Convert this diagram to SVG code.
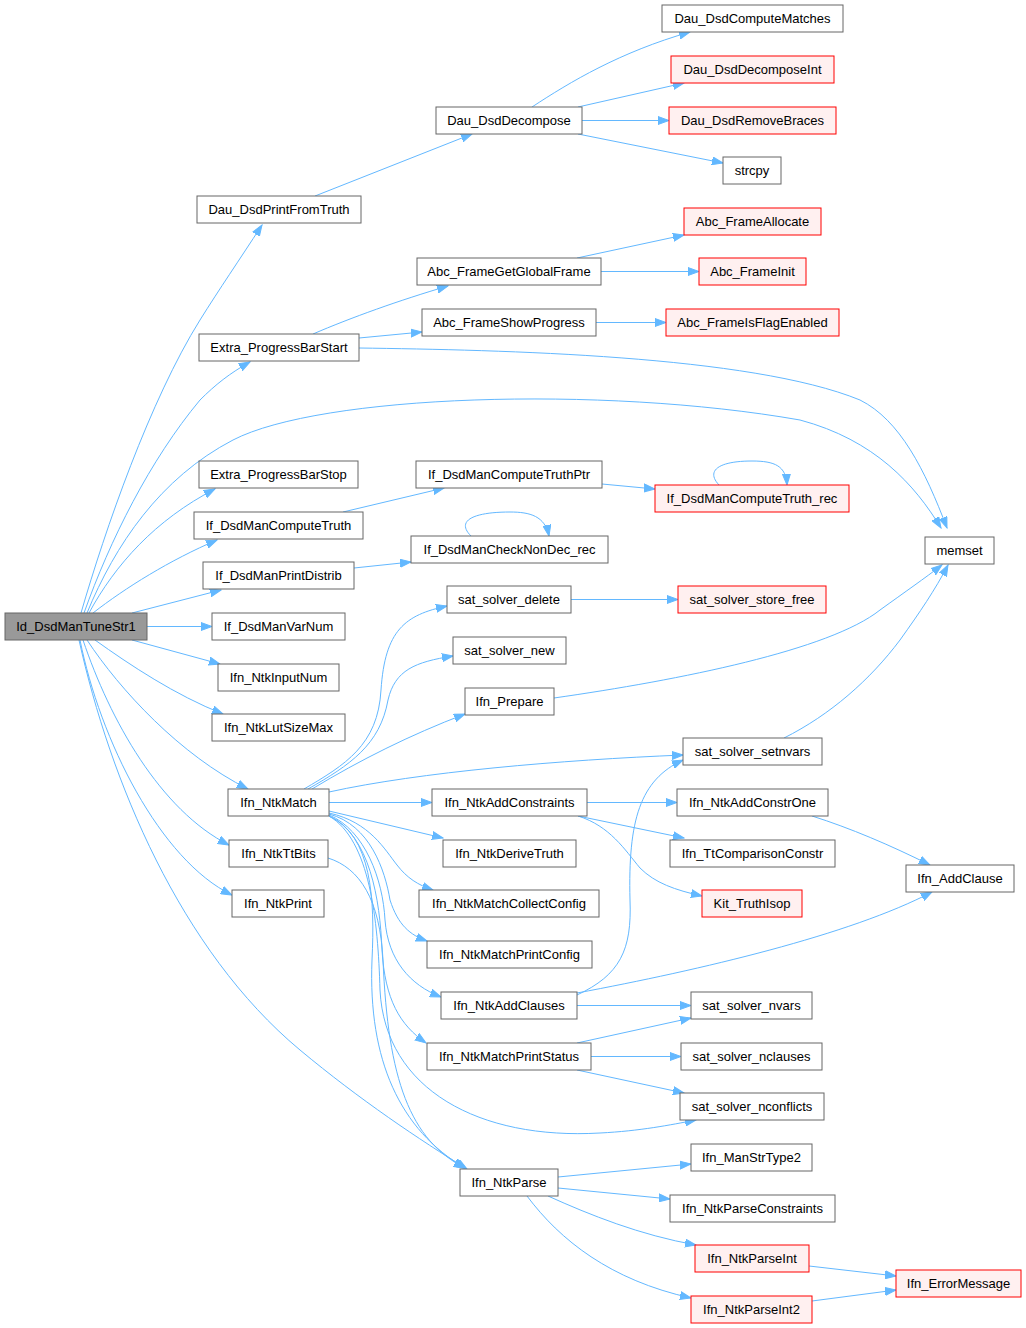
<svg xmlns="http://www.w3.org/2000/svg" width="1026" height="1328" viewBox="0 0 1026 1328">
<style>
.n rect{fill:#ffffff;stroke:#666666;stroke-width:1}
.r rect{fill:#fff0f0;stroke:#ff0000;stroke-width:1}
.root rect{fill:#999999;stroke:#666666;stroke-width:1}
text{font-family:"Liberation Sans",Arial,Helvetica,sans-serif;font-size:13px;text-anchor:middle;fill:#000000}
.e path{fill:none;stroke:#63b8ff;stroke-width:1;marker-end:url(#a)}
</style>
<defs>
<marker id="a" markerWidth="12" markerHeight="9" refX="11" refY="4.5" orient="auto" markerUnits="userSpaceOnUse">
<path d="M0,0.5 L11,4.5 L0,8.5 Z" fill="#63b8ff" stroke="#63b8ff" stroke-width="1"/>
</marker>
</defs>
<rect width="1026" height="1328" fill="#ffffff"/>
<g id="edges" class="e">
<path d="M81,613 C105,530 150,400 200,320 C220,288 238,262 262,225"/>
<path d="M84,613 C110,540 150,460 200,400 C215,385 230,373 250,362"/>
<path d="M87,613 C115,545 160,478 233,440 C320,395 600,385 800,420 C875,440 915,485 941,528"/>
<path d="M359,348 C500,350 750,355 860,400 C900,420 925,470 947,528"/>
<path d="M89,613 C115,565 155,520 215,489"/>
<path d="M93,613 C125,588 170,560 217,540"/>
<path d="M132,613 L221,590"/>
<path d="M147,626.5 L212,626.5"/>
<path d="M132,640 L220,664"/>
<path d="M95,640 C130,665 175,695 223,714"/>
<path d="M87,640 C120,690 180,755 248,789"/>
<path d="M83,640 C110,720 160,810 229,845"/>
<path d="M80,640 C100,740 160,860 232,895"/>
<path d="M79,640 C110,780 180,950 300,1050 C360,1100 420,1140 467,1169"/>
<path d="M315,196 L472,134"/>
<path d="M532,107 C570,82 620,52 690,32"/>
<path d="M578,107 L684,83"/>
<path d="M582,120.5 L669,120.5"/>
<path d="M578,134 L723,163"/>
<path d="M313,334 C350,318 400,300 448,286"/>
<path d="M359,338 L422,332"/>
<path d="M577,258 L684,235"/>
<path d="M601,271.5 L699,271.5"/>
<path d="M596,322.5 L666,322.5"/>
<path d="M343,512 L444,488"/>
<path d="M602,484 L655,489"/>
<path d="M719,485 C705,470 720,461 752,461 C775,461 786,466 787,485"/>
<path d="M354,568 L411,562"/>
<path d="M471,536 C455,520 475,512 510,512 C530,512 545,516 549,536"/>
<path d="M304,789 C345,765 378,745 381,690 C385,630 405,615 447,606"/>
<path d="M308,789 C350,765 380,745 388,700 C395,670 415,662 453,656"/>
<path d="M312,789 C360,760 410,735 465,714"/>
<path d="M329,792 C420,772 560,760 683,755"/>
<path d="M329,802.5 L432,802.5"/>
<path d="M329,811 L443,838"/>
<path d="M329,813 C370,822 385,850 397,865 C407,878 418,885 433,890"/>
<path d="M329,814 C370,825 385,870 390,900 C398,925 410,935 427,941"/>
<path d="M329,815 C365,830 383,880 385,920 C388,960 410,985 441,997"/>
<path d="M329,816 C370,835 380,900 382,950 C385,1000 400,1025 426,1043"/>
<path d="M329,816 C370,840 378,920 380,990 C385,1090 480,1140 600,1133 C640,1131 670,1125 696,1120"/>
<path d="M329,816 C372,835 375,900 372,960 C368,1060 400,1130 465,1168"/>
<path d="M328,858 C360,868 380,900 383,960 C388,1080 410,1140 465,1168"/>
<path d="M571,599.5 L678,599.5"/>
<path d="M587,802.5 L677,802.5"/>
<path d="M578,816 L684,838"/>
<path d="M578,816 C610,826 625,850 640,868 C655,883 675,890 702,896"/>
<path d="M812,816 C850,828 890,845 930,865"/>
<path d="M554,698 C680,680 830,650 880,610 C905,592 925,578 942,565"/>
<path d="M784,738 C830,715 870,680 900,640 C920,612 935,590 948,565"/>
<path d="M577,995 C620,975 632,950 630,900 C628,820 640,780 683,760"/>
<path d="M577,993 C700,970 850,935 932,892"/>
<path d="M577,1005.5 L691,1005.5"/>
<path d="M577,1043 L691,1018"/>
<path d="M591,1056.5 L681,1056.5"/>
<path d="M577,1070 L684,1093"/>
<path d="M558,1177 L691,1164"/>
<path d="M558,1188 L670,1199"/>
<path d="M548,1196 C590,1215 640,1235 696,1245"/>
<path d="M527,1196 C560,1240 610,1280 691,1298"/>
<path d="M809,1266 L896,1276"/>
<path d="M812,1301 L896,1290"/>
</g>
<g id="n1" class="root"><rect x="5" y="613" width="142" height="27"/><text x="76" y="631">Id_DsdManTuneStr1</text></g>
<g id="n2" class="n"><rect x="197" y="196" width="164" height="27"/><text x="279" y="214">Dau_DsdPrintFromTruth</text></g>
<g id="n3" class="n"><rect x="199" y="334" width="160" height="27"/><text x="279" y="352">Extra_ProgressBarStart</text></g>
<g id="n4" class="n"><rect x="199" y="461" width="159" height="27"/><text x="278.5" y="479">Extra_ProgressBarStop</text></g>
<g id="n5" class="n"><rect x="194" y="512" width="169" height="27"/><text x="278.5" y="530">If_DsdManComputeTruth</text></g>
<g id="n6" class="n"><rect x="203" y="562" width="151" height="27"/><text x="278.5" y="580">If_DsdManPrintDistrib</text></g>
<g id="n7" class="n"><rect x="212" y="613" width="133" height="27"/><text x="278.5" y="631">If_DsdManVarNum</text></g>
<g id="n8" class="n"><rect x="218" y="664" width="121" height="27"/><text x="278.5" y="682">Ifn_NtkInputNum</text></g>
<g id="n9" class="n"><rect x="212" y="714" width="133" height="27"/><text x="278.5" y="732">Ifn_NtkLutSizeMax</text></g>
<g id="n10" class="n"><rect x="228" y="789" width="101" height="27"/><text x="278.5" y="807">Ifn_NtkMatch</text></g>
<g id="n11" class="n"><rect x="229" y="840" width="99" height="27"/><text x="278.5" y="858">Ifn_NtkTtBits</text></g>
<g id="n12" class="n"><rect x="232" y="890" width="92" height="27"/><text x="278" y="908">Ifn_NtkPrint</text></g>
<g id="n13" class="n"><rect x="436" y="107" width="146" height="27"/><text x="509" y="125">Dau_DsdDecompose</text></g>
<g id="n14" class="n"><rect x="662" y="5" width="181" height="27"/><text x="752.5" y="23">Dau_DsdComputeMatches</text></g>
<g id="n15" class="r"><rect x="671" y="56" width="163" height="27"/><text x="752.5" y="74">Dau_DsdDecomposeInt</text></g>
<g id="n16" class="r"><rect x="669" y="107" width="167" height="27"/><text x="752.5" y="125">Dau_DsdRemoveBraces</text></g>
<g id="n17" class="n"><rect x="723" y="157" width="58" height="27"/><text x="752" y="175">strcpy</text></g>
<g id="n18" class="r"><rect x="684" y="208" width="137" height="27"/><text x="752.5" y="226">Abc_FrameAllocate</text></g>
<g id="n19" class="n"><rect x="417" y="258" width="184" height="27"/><text x="509" y="276">Abc_FrameGetGlobalFrame</text></g>
<g id="n20" class="r"><rect x="699" y="258" width="107" height="27"/><text x="752.5" y="276">Abc_FrameInit</text></g>
<g id="n21" class="n"><rect x="422" y="309" width="174" height="27"/><text x="509" y="327">Abc_FrameShowProgress</text></g>
<g id="n22" class="r"><rect x="666" y="309" width="173" height="27"/><text x="752.5" y="327">Abc_FrameIsFlagEnabled</text></g>
<g id="n23" class="n"><rect x="416" y="461" width="186" height="27"/><text x="509" y="479">If_DsdManComputeTruthPtr</text></g>
<g id="n24" class="r"><rect x="655" y="485" width="194" height="27"/><text x="752" y="503">If_DsdManComputeTruth_rec</text></g>
<g id="n25" class="n"><rect x="925" y="537" width="69" height="27"/><text x="959.5" y="555">memset</text></g>
<g id="n26" class="n"><rect x="411" y="536" width="197" height="27"/><text x="509.5" y="554">If_DsdManCheckNonDec_rec</text></g>
<g id="n27" class="n"><rect x="447" y="586" width="124" height="27"/><text x="509" y="604">sat_solver_delete</text></g>
<g id="n28" class="r"><rect x="678" y="586" width="148" height="27"/><text x="752" y="604">sat_solver_store_free</text></g>
<g id="n29" class="n"><rect x="453" y="637" width="113" height="27"/><text x="509.5" y="655">sat_solver_new</text></g>
<g id="n30" class="n"><rect x="465" y="688" width="89" height="27"/><text x="509.5" y="706">Ifn_Prepare</text></g>
<g id="n31" class="n"><rect x="683" y="738" width="139" height="27"/><text x="752.5" y="756">sat_solver_setnvars</text></g>
<g id="n32" class="n"><rect x="432" y="789" width="155" height="27"/><text x="509.5" y="807">Ifn_NtkAddConstraints</text></g>
<g id="n33" class="n"><rect x="677" y="789" width="151" height="27"/><text x="752.5" y="807">Ifn_NtkAddConstrOne</text></g>
<g id="n34" class="n"><rect x="443" y="840" width="133" height="27"/><text x="509.5" y="858">Ifn_NtkDeriveTruth</text></g>
<g id="n35" class="n"><rect x="670" y="840" width="165" height="27"/><text x="752.5" y="858">Ifn_TtComparisonConstr</text></g>
<g id="n36" class="n"><rect x="906" y="865" width="108" height="27"/><text x="960" y="883">Ifn_AddClause</text></g>
<g id="n37" class="n"><rect x="419" y="890" width="180" height="27"/><text x="509" y="908">Ifn_NtkMatchCollectConfig</text></g>
<g id="n38" class="r"><rect x="702" y="890" width="100" height="27"/><text x="752" y="908">Kit_TruthIsop</text></g>
<g id="n39" class="n"><rect x="427" y="941" width="165" height="27"/><text x="509.5" y="959">Ifn_NtkMatchPrintConfig</text></g>
<g id="n40" class="n"><rect x="441" y="992" width="136" height="27"/><text x="509" y="1010">Ifn_NtkAddClauses</text></g>
<g id="n41" class="n"><rect x="691" y="992" width="121" height="27"/><text x="751.5" y="1010">sat_solver_nvars</text></g>
<g id="n42" class="n"><rect x="427" y="1043" width="164" height="27"/><text x="509" y="1061">Ifn_NtkMatchPrintStatus</text></g>
<g id="n43" class="n"><rect x="681" y="1043" width="141" height="27"/><text x="751.5" y="1061">sat_solver_nclauses</text></g>
<g id="n44" class="n"><rect x="680" y="1093" width="144" height="27"/><text x="752" y="1111">sat_solver_nconflicts</text></g>
<g id="n45" class="n"><rect x="691" y="1144" width="121" height="27"/><text x="751.5" y="1162">Ifn_ManStrType2</text></g>
<g id="n46" class="n"><rect x="460" y="1169" width="98" height="27"/><text x="509" y="1187">Ifn_NtkParse</text></g>
<g id="n47" class="n"><rect x="670" y="1195" width="165" height="27"/><text x="752.5" y="1213">Ifn_NtkParseConstraints</text></g>
<g id="n48" class="r"><rect x="695" y="1245" width="114" height="27"/><text x="752" y="1263">Ifn_NtkParseInt</text></g>
<g id="n49" class="r"><rect x="896" y="1270" width="125" height="27"/><text x="958.5" y="1288">Ifn_ErrorMessage</text></g>
<g id="n50" class="r"><rect x="691" y="1296" width="121" height="27"/><text x="751.5" y="1314">Ifn_NtkParseInt2</text></g>
</svg>
